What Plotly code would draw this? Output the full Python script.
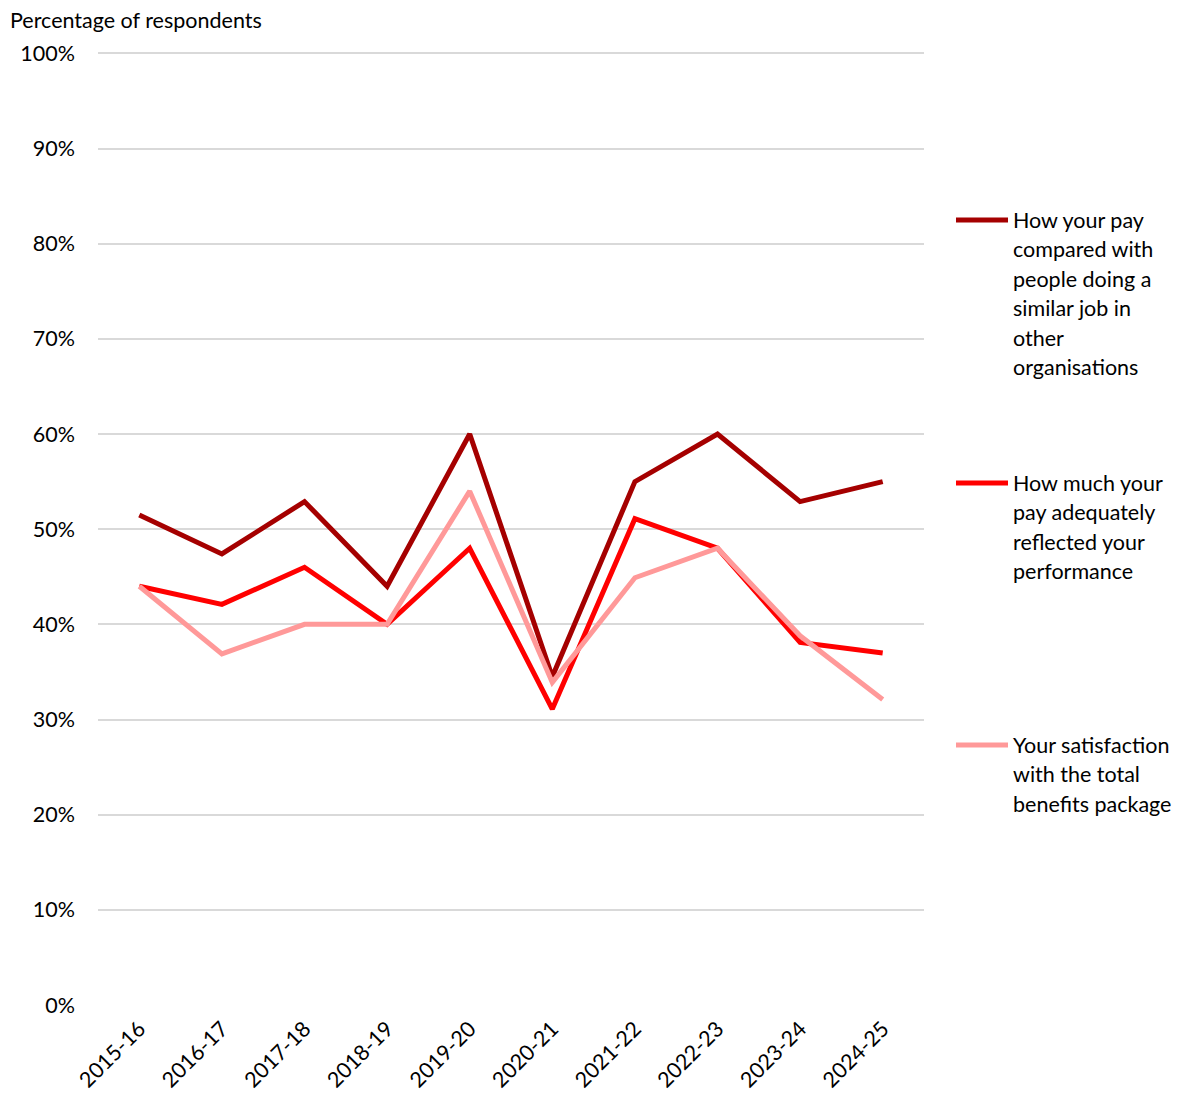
import plotly.graph_objects as go

years = ["2015-16", "2016-17", "2017-18", "2018-19", "2019-20",
         "2020-21", "2021-22", "2022-23", "2023-24", "2024-25"]

pay_compared = [51.5, 47.4, 52.9, 44, 60, 34.5, 55, 60, 52.9, 55]
pay_performance = [44, 42.1, 46, 40, 48, 31.1, 51.1, 48, 38.1, 37]
benefits_package = [44, 36.9, 40, 40, 54, 33.9, 44.9, 48, 38.8, 32.1]

series_names = [
    ["How your pay", "compared with", "people doing a", "similar job in", "other", "organisations"],
    ["How much your", "pay adequately", "reflected your", "performance"],
    ["Your satisfaction", "with the total", "benefits package"],
]
series_colors = ["#A50000", "#FF0000", "#FF9999"]

FONT = "Lato, 'Open Sans', sans-serif"
FS = 21.5
W, H = 1187, 1098
ML, MR, MT, MB = 98, 263, 52, 93

fig = go.Figure()
for vals, name, col in zip([pay_compared, pay_performance, benefits_package],
                           series_names, series_colors):
    fig.add_trace(go.Scatter(
        x=years, y=vals, mode="lines", name=" ".join(name),
        line=dict(color=col, width=5), showlegend=False,
    ))

# Hand-placed legend to the right of the plot
def px_x(px):
    return (px - ML) / (W - ML - MR)

def px_y(py):
    return 1 - (py - MT) / (H - MT - MB)

legend_tops = [220, 483, 745]
line_step = 29.4
for top, name, col in zip(legend_tops, series_names, series_colors):
    fig.add_shape(type="line", xref="paper", yref="paper",
                  x0=px_x(956), x1=px_x(1008), y0=px_y(top), y1=px_y(top),
                  line=dict(color=col, width=5))
    for i, txt in enumerate(name):
        fig.add_annotation(xref="paper", yref="paper",
                           x=px_x(1011), y=px_y(top + i * line_step),
                           text=txt, showarrow=False, xanchor="left", yanchor="middle",
                           font=dict(family=FONT, size=FS, color="#000000"))

fig.add_annotation(xref="paper", yref="paper", x=px_x(8), y=px_y(20),
                   text="Percentage of respondents", showarrow=False,
                   xanchor="left", yanchor="middle",
                   font=dict(family=FONT, size=FS, color="#000000"))

fig.update_layout(
    width=W, height=H,
    margin=dict(l=ML, r=MR, t=MT, b=MB),
    paper_bgcolor="white", plot_bgcolor="white",
    font=dict(family=FONT, size=FS, color="#000000"),
    xaxis=dict(type="category", range=[-0.5, 9.5], tickangle=-45,
               showgrid=False, showline=False, ticks="", automargin=False,
               ticklabelstandoff=6, tickfont=dict(size=FS)),
    yaxis=dict(range=[0, 100.15], dtick=10, ticksuffix="%",
               showgrid=True, gridcolor="#D9D9D9", gridwidth=1.5,
               zeroline=False, showline=False, ticks="", automargin=False,
               ticklabelstandoff=22, tickfont=dict(size=FS)),
)

fig.write_html("out.html")
